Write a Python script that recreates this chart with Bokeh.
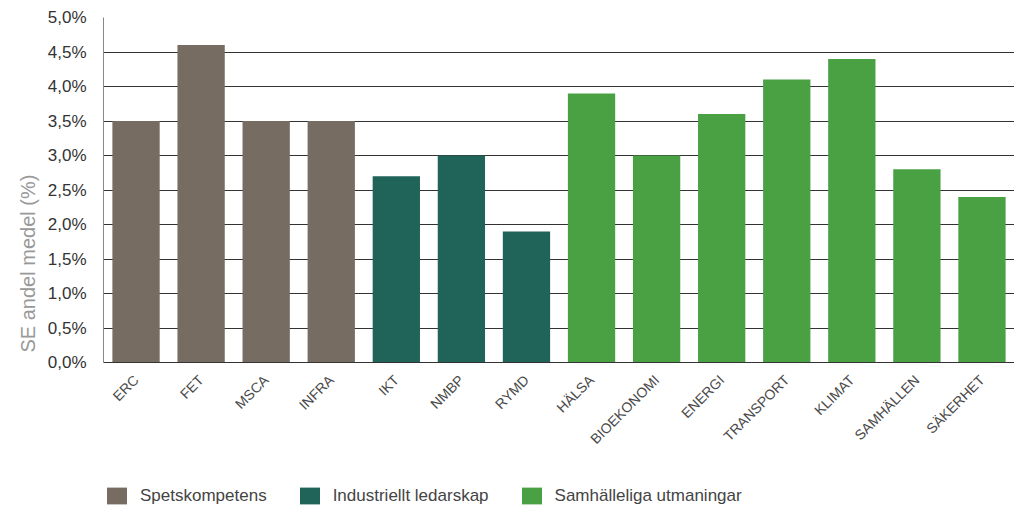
from bokeh.plotting import figure
from bokeh.models import ColumnDataSource, Legend, LegendItem, FixedTicker, Title, Range1d
from bokeh.layouts import column
from bokeh.embed import file_html
from bokeh.resources import INLINE
from math import pi

categories = ["ERC", "FET", "MSCA", "INFRA", "IKT", "NMBP", "RYMD", "HÄLSA",
              "BIOEKONOMI", "ENERGI", "TRANSPORT", "KLIMAT", "SAMHÄLLEN", "SÄKERHET"]
values = [3.5, 4.6, 3.5, 3.5, 2.7, 3.0, 1.9, 3.9, 3.0, 3.6, 4.1, 4.4, 2.8, 2.4]
groups = ["Spetskompetens"] * 4 + ["Industriellt ledarskap"] * 3 + ["Samhälleliga utmaningar"] * 7
group_names = ["Spetskompetens", "Industriellt ledarskap", "Samhälleliga utmaningar"]
group_colors = ["#766c62", "#206358", "#4aa144"]
y_ticks = [0.0, 0.5, 1.0, 1.5, 2.0, 2.5, 3.0, 3.5, 4.0, 4.5, 5.0]
y_tick_labels = ["0,0%", "0,5%", "1,0%", "1,5%", "2,0%", "2,5%", "3,0%", "3,5%", "4,0%", "4,5%", "5,0%"]
y_title = "SE andel medel (%)"

FONT = "Liberation Sans"
W = 1014
H = 474

p = figure(width=W, height=H, x_range=categories, y_range=(0, 5),
           output_backend="svg", toolbar_location=None,
           min_border_left=103, min_border_right=0, min_border_top=17,
           min_border_bottom=H - 362)
p.outline_line_color = None
p.background_fill_color = "white"

for g, c in zip(group_names, group_colors):
    xs = [cat for cat, gg in zip(categories, groups) if gg == g]
    ys = [v for v, gg in zip(values, groups) if gg == g]
    src = ColumnDataSource(dict(x=xs, top=ys))
    p.vbar(x="x", top="top", width=0.727, bottom=0, source=src,
           fill_color=c, line_color=None)

# y axis
p.yaxis.ticker = FixedTicker(ticks=y_ticks)
p.yaxis.major_label_overrides = {t: l for t, l in zip(y_ticks, y_tick_labels)}
p.yaxis.major_tick_line_color = None
p.yaxis.minor_tick_line_color = None
p.yaxis.axis_line_color = "#888888"
p.yaxis.major_label_text_font = FONT
p.yaxis.major_label_text_font_size = "17px"
p.yaxis.major_label_text_color = "#333333"
p.yaxis.major_label_standoff = 11

ytitle = Title(text=y_title, align="left", offset=10, standoff=12,
               text_font=FONT, text_font_size="20px", text_font_style="normal",
               text_color="#999999")
p.add_layout(ytitle, "left")

# x axis
p.xaxis.major_label_orientation = pi / 4
p.xaxis.major_tick_line_color = None
p.xaxis.minor_tick_line_color = None
p.xaxis.axis_line_color = "#333333"
p.xaxis.major_label_text_font = FONT
p.xaxis.major_label_text_font_size = "14px"
p.xaxis.major_label_text_color = "#4a4a4a"
p.xaxis.major_label_standoff = 9

p.xgrid.grid_line_color = None
p.ygrid.grid_line_color = "#333333"
p.ygrid.grid_line_width = 1

# legend strip (frame is aligned with the main plot's frame by the column layout)
lf = figure(width=W, height=32, x_range=Range1d(0, 1), y_range=Range1d(0, 1),
            output_backend="svg", toolbar_location=None,
            x_axis_location=None, y_axis_location=None,
            min_border=0, min_border_left=0, min_border_right=0,
            min_border_top=0, min_border_bottom=0)
lf.outline_line_color = None
lf.xgrid.grid_line_color = None
lf.ygrid.grid_line_color = None
leg_renderers = []
for g, c in zip(group_names, group_colors):
    # a bar placed outside the visible range, only used as legend swatch
    r = lf.vbar(x=[5], top=[5], bottom=[4], width=0.5, fill_color=c, line_color=None)
    leg_renderers.append(r)

legend = Legend(items=[LegendItem(label=g, renderers=[r]) for g, r in zip(group_names, leg_renderers)],
                orientation="horizontal", location=(1, 0),
                glyph_width=25, glyph_height=21, label_standoff=11, spacing=30,
                padding=0, margin=0, border_line_color=None, background_fill_alpha=0,
                label_text_font=FONT, label_text_font_size="17px", label_text_color="#444444")
lf.add_layout(legend, "center")

layout = column(p, lf, spacing=0)
open("out.html", "w").write(file_html(layout, INLINE))
